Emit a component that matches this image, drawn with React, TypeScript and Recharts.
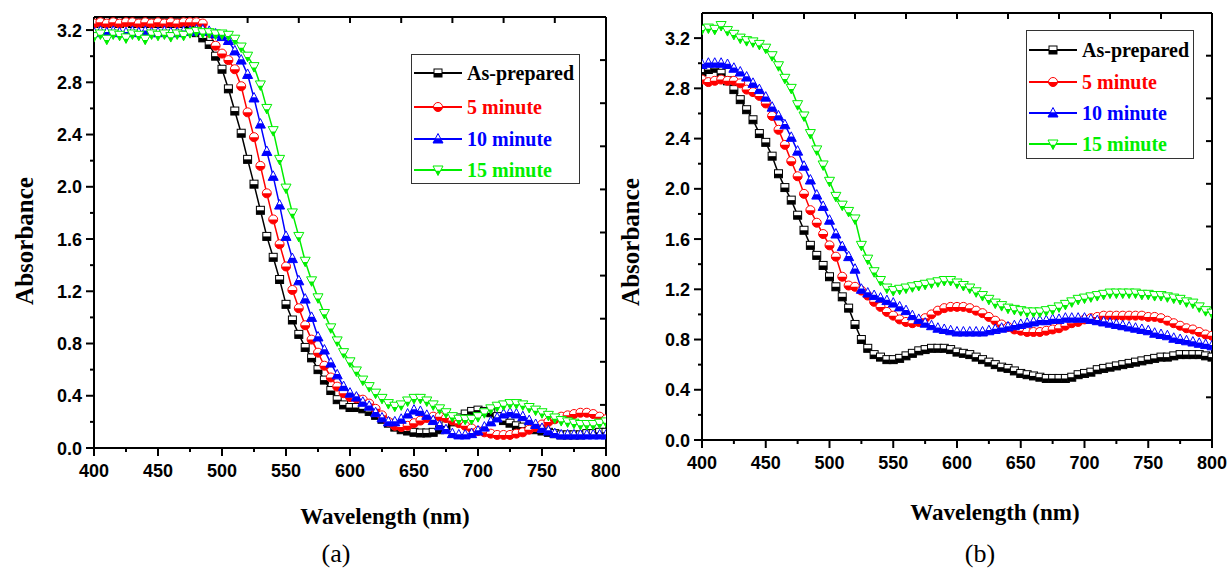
import React from 'react';
import { LineChart, Line, XAxis, YAxis, ReferenceLine } from 'recharts';

// wavelength grid shared by both panels (nm)
const wavelength = [
  400, 405, 410, 415, 420, 425, 430, 435, 440, 445, 450, 455, 460, 465, 470, 475,
  480, 485, 490, 495, 500, 505, 510, 515, 520, 525, 530, 535, 540, 545, 550, 555,
  560, 565, 570, 575, 580, 585, 590, 595, 600, 605, 610, 615, 620, 625, 630, 635,
  640, 645, 650, 655, 660, 665, 670, 675, 680, 685, 690, 695, 700, 705, 710, 715,
  720, 725, 730, 735, 740, 745, 750, 755, 760, 765, 770, 775, 780, 785, 790, 795, 800,
];

const seriesNames = ['As-prepared', '5 minute', '10 minute', '15 minute'];

// panel (a)
const aAsPrepared = [
  3.25, 3.26, 3.25, 3.26, 3.25, 3.26, 3.25, 3.26, 3.25, 3.26, 3.25, 3.26, 3.25, 3.26, 3.25, 3.24,
  3.18, 3.14, 3.09, 3.0, 2.9, 2.75, 2.58, 2.41, 2.21, 2.02, 1.82, 1.62, 1.46, 1.29, 1.1, 0.98,
  0.87, 0.77, 0.69, 0.6, 0.52, 0.44, 0.37, 0.33,
  0.31, 0.31, 0.3, 0.28, 0.25, 0.22, 0.19, 0.16, 0.14, 0.13, 0.12, 0.115, 0.115, 0.12, 0.14, 0.17,
  0.2, 0.23, 0.26, 0.28,
  0.29, 0.28, 0.27, 0.24, 0.21, 0.19, 0.17, 0.16, 0.15, 0.14, 0.13, 0.12, 0.11, 0.1, 0.1, 0.1,
  0.1, 0.11, 0.11, 0.12, 0.12,
];
const a5min = [
  3.25, 3.26, 3.25, 3.26, 3.25, 3.26, 3.26, 3.25, 3.26, 3.25, 3.26, 3.25, 3.26, 3.25, 3.26, 3.26,
  3.26, 3.25, 3.18, 3.08, 3.02, 2.97, 2.9, 2.77, 2.57, 2.38, 2.16, 1.95, 1.75, 1.56, 1.39, 1.21,
  1.07, 0.94, 0.83, 0.73, 0.63, 0.54, 0.47, 0.42,
  0.39, 0.38, 0.37, 0.34, 0.3, 0.25, 0.2, 0.17, 0.16, 0.17, 0.19, 0.21, 0.23, 0.24, 0.24, 0.23,
  0.21, 0.19, 0.17, 0.15,
  0.13, 0.12, 0.11, 0.1, 0.1, 0.1, 0.11, 0.12, 0.14, 0.16, 0.18, 0.2, 0.22, 0.24, 0.25, 0.26,
  0.27, 0.27, 0.26, 0.24, 0.22,
];
const a10min = [
  3.18, 3.19, 3.18, 3.19, 3.18, 3.18, 3.19, 3.18, 3.19, 3.18, 3.18, 3.19, 3.18, 3.18, 3.19, 3.19,
  3.2, 3.2, 3.19, 3.17, 3.15, 3.12, 3.04, 2.97, 2.86, 2.68, 2.48, 2.27, 2.08, 1.86, 1.62, 1.45,
  1.28, 1.14, 1.0, 0.85, 0.75, 0.65, 0.56, 0.47,
  0.42, 0.39, 0.35, 0.32, 0.27, 0.23, 0.2, 0.2, 0.22, 0.26, 0.29, 0.28, 0.25, 0.21, 0.17, 0.14,
  0.11, 0.1, 0.1, 0.11,
  0.13, 0.16, 0.2, 0.23, 0.26, 0.27, 0.26, 0.24, 0.21, 0.18, 0.15, 0.13, 0.11, 0.1, 0.1, 0.1,
  0.1, 0.1, 0.1, 0.1, 0.1,
];
const a15min = [
  3.15, 3.17, 3.13, 3.17, 3.16, 3.14, 3.17, 3.16, 3.13, 3.17, 3.16, 3.17, 3.15, 3.17, 3.16, 3.18,
  3.19, 3.18, 3.18, 3.17, 3.17, 3.16, 3.13, 3.07, 3.0, 2.92, 2.78, 2.6, 2.43, 2.21, 1.99, 1.8,
  1.62, 1.43, 1.28, 1.15, 1.03, 0.92, 0.82, 0.73,
  0.66, 0.59, 0.52, 0.47, 0.42, 0.38, 0.34, 0.32, 0.33, 0.36, 0.38, 0.38, 0.36, 0.33, 0.3, 0.27,
  0.24, 0.22, 0.22, 0.22,
  0.24, 0.27, 0.3, 0.32, 0.33, 0.34, 0.34, 0.33, 0.31, 0.29, 0.27, 0.25, 0.23, 0.21, 0.2, 0.19,
  0.18, 0.18, 0.18, 0.19, 0.2,
];

// panel (b)
const bAsPrepared = [
  2.93, 2.95, 2.96, 2.92, 2.86, 2.79, 2.71, 2.63, 2.55, 2.44, 2.37, 2.26, 2.12, 2.01, 1.91, 1.79,
  1.67, 1.55, 1.47, 1.39, 1.3, 1.22, 1.14, 1.05, 0.92, 0.8, 0.73, 0.68, 0.66, 0.64, 0.64, 0.65,
  0.67, 0.69, 0.71, 0.72, 0.73, 0.73, 0.73, 0.72,
  0.7, 0.69, 0.68, 0.66, 0.64, 0.62, 0.6, 0.58, 0.57, 0.55, 0.53, 0.52, 0.51, 0.5, 0.49, 0.49,
  0.49, 0.49, 0.5, 0.52,
  0.53, 0.54, 0.56, 0.57, 0.58, 0.59, 0.6, 0.61, 0.62, 0.63, 0.64, 0.65, 0.66, 0.66, 0.67, 0.68,
  0.68, 0.68, 0.68, 0.67, 0.66,
];
const b5min = [
  2.87, 2.85, 2.86, 2.87, 2.86, 2.86, 2.84, 2.79, 2.77, 2.74, 2.68, 2.58, 2.47, 2.35, 2.22, 2.1,
  1.96, 1.83, 1.73, 1.64, 1.55, 1.46, 1.3, 1.23, 1.22, 1.19, 1.15, 1.1, 1.06, 1.02, 0.99, 0.96,
  0.94, 0.93, 0.94, 0.97, 1.0, 1.03, 1.05, 1.06,
  1.06, 1.06, 1.05, 1.03, 1.01, 0.98, 0.95, 0.92, 0.9, 0.88, 0.87, 0.86, 0.86, 0.86, 0.87, 0.88,
  0.89, 0.91, 0.93, 0.94,
  0.96, 0.97, 0.98, 0.99, 0.99, 0.99, 0.99, 0.99, 0.99, 0.99, 0.98, 0.98, 0.97, 0.95, 0.93, 0.91,
  0.89, 0.88, 0.86, 0.84, 0.83,
];
const b10min = [
  2.99, 3.0, 3.0, 3.0, 2.99, 2.96, 2.93, 2.89, 2.84, 2.79, 2.73, 2.65, 2.58, 2.51, 2.41, 2.3,
  2.18, 2.07, 1.95, 1.86, 1.75, 1.64, 1.54, 1.46, 1.36, 1.2, 1.17, 1.15, 1.13, 1.11, 1.09, 1.06,
  1.03, 0.99, 0.96, 0.93, 0.91, 0.89, 0.88, 0.87,
  0.86, 0.86, 0.86, 0.86, 0.86, 0.87, 0.88, 0.89, 0.9, 0.91, 0.92, 0.93, 0.94, 0.95, 0.95, 0.96,
  0.96, 0.97, 0.97, 0.97,
  0.97, 0.96, 0.95, 0.94, 0.93, 0.92, 0.91, 0.9, 0.89, 0.88, 0.87, 0.85, 0.84, 0.83, 0.81, 0.8,
  0.79, 0.78, 0.77, 0.76, 0.75,
];
const b15min = [
  3.27, 3.28, 3.27, 3.3, 3.26, 3.23, 3.2, 3.18, 3.17, 3.15, 3.12, 3.06, 2.98, 2.88, 2.8, 2.67,
  2.58, 2.44, 2.31, 2.19, 2.06, 1.94, 1.87, 1.82, 1.76, 1.55, 1.44, 1.34, 1.27, 1.21, 1.19, 1.2,
  1.21, 1.22, 1.23, 1.24, 1.25, 1.26, 1.27, 1.27,
  1.25, 1.23, 1.21, 1.18, 1.15, 1.12, 1.09, 1.07, 1.05, 1.04, 1.03, 1.02, 1.02, 1.02, 1.03, 1.04,
  1.06, 1.08, 1.1, 1.12,
  1.13, 1.14, 1.15, 1.16, 1.17, 1.17, 1.17, 1.17, 1.17, 1.16, 1.16, 1.15, 1.15, 1.14, 1.13, 1.12,
  1.1, 1.09, 1.06, 1.03, 1.01,
];

// axis ticks
const xTicks = [400, 425, 450, 475, 500, 525, 550, 575, 600, 625, 650, 675, 700, 725, 750, 775, 800];
const yTicks = [0, 0.2, 0.4, 0.6, 0.8, 1.0, 1.2, 1.4, 1.6, 1.8, 2.0, 2.2, 2.4, 2.6, 2.8, 3.0, 3.2];
// the top / right frame is split in ten equal divisions
const topTicks = [440, 480, 520, 560, 600, 640, 680, 720, 760];
const rightTicksA = [0.33, 0.66, 0.99, 1.32, 1.65, 1.98, 2.31, 2.64, 2.97];
const rightTicksB = [0.34, 0.68, 1.02, 1.36, 1.7, 2.04, 2.38, 2.72, 3.06];

type Shape = 'square' | 'circle' | 'up' | 'down';
const SERIES: { key: string; color: string; shape: Shape }[] = [
  { key: 's0', color: '#000000', shape: 'square' },
  { key: 's1', color: '#ff0000', shape: 'circle' },
  { key: 's2', color: '#0000ff', shape: 'up' },
  { key: 's3', color: '#00ee00', shape: 'down' },
];

const serif = '"Liberation Serif", "Times New Roman", serif';
const sans = '"Liberation Sans", Arial, sans-serif';
const tickFont = { fontFamily: sans, fontWeight: 700, fontSize: 18, fill: '#000' };

// Origin-style half filled symbol (top white, bottom coloured)
function HalfMarker({ cx, cy, color, shape }: { cx: number; cy: number; color: string; shape: Shape }) {
  if (cx == null || cy == null) return null;
  if (shape === 'square') {
    return (
      <g>
        <rect x={cx - 4} y={cy - 4} width={8} height={8} fill="#fff" stroke={color} strokeWidth={1} />
        <rect x={cx - 4} y={cy} width={8} height={4} fill={color} />
      </g>
    );
  }
  if (shape === 'circle') {
    const r = 4.5;
    return (
      <g>
        <circle cx={cx} cy={cy} r={r} fill="#fff" stroke={color} strokeWidth={1} />
        <path d={`M${cx - r},${cy} A${r},${r} 0 0 0 ${cx + r},${cy} Z`} fill={color} />
      </g>
    );
  }
  if (shape === 'up') {
    return (
      <g>
        <polygon points={`${cx},${cy - 5.5} ${cx + 5},${cy + 4} ${cx - 5},${cy + 4}`} fill="#fff" stroke={color} strokeWidth={1} />
        <polygon points={`${cx - 2.5},${cy - 0.75} ${cx + 2.5},${cy - 0.75} ${cx + 5},${cy + 4} ${cx - 5},${cy + 4}`} fill={color} />
      </g>
    );
  }
  return (
    <g>
      <polygon points={`${cx - 5},${cy - 4} ${cx + 5},${cy - 4} ${cx},${cy + 5.5}`} fill="#fff" stroke={color} strokeWidth={1} />
      <polygon points={`${cx - 2.5},${cy + 0.75} ${cx + 2.5},${cy + 0.75} ${cx},${cy + 5.5}`} fill={color} />
    </g>
  );
}

const BottomTick = ({ x, y, payload }: any) => {
  const major = payload.value % 50 === 0;
  return (
    <g>
      <line x1={x} x2={x} y1={y} y2={y + (major ? 8 : 4)} stroke="#000" strokeWidth={2} />
      {major && (
        <text x={x} y={y + 29} textAnchor="middle" {...tickFont}>
          {payload.value}
        </text>
      )}
    </g>
  );
};

const LeftTick = ({ x, y, payload }: any) => {
  const major = Math.round(payload.value * 5) % 2 === 0;
  return (
    <g>
      <line x1={x} x2={x - (major ? 8 : 4)} y1={y} y2={y} stroke="#000" strokeWidth={2} />
      {major && (
        <text x={x - 12} y={y + 6.5} textAnchor="end" {...tickFont}>
          {payload.value.toFixed(1)}
        </text>
      )}
    </g>
  );
};

const frameLine = { stroke: '#000', strokeWidth: 2 };

function Panel({ values, yMax, rightTicks, width, margin }: {
  values: number[][]; yMax: number; rightTicks: number[]; width: number;
  margin: { top: number; right: number; bottom: number; left: number };
}) {
  const rows = wavelength.map((w, i) => ({
    w,
    s0: values[0][i],
    s1: values[1][i],
    s2: values[2][i],
    s3: values[3][i],
  }));
  const height = 569;
  const plotW = width - margin.left - margin.right - 60 - 10;
  const plotH = height - margin.top - margin.bottom - 30 - 10;
  // 6 px inward frame ticks, expressed in data units
  const dy = (6 * yMax) / plotH;
  const dx = (6 * 400) / plotW;
  return (
    <LineChart width={width} height={height} data={rows} margin={margin}>
      <XAxis xAxisId="b" dataKey="w" type="number" domain={[400, 800]} ticks={xTicks} interval={0}
        allowDataOverflow height={30} tickSize={0} tickMargin={0} tickLine={false} axisLine={frameLine}
        tick={BottomTick} />
      <XAxis xAxisId="t" orientation="top" height={10} tick={false} tickLine={false} axisLine={frameLine} />
      <YAxis yAxisId="l" type="number" domain={[0, yMax]} ticks={yTicks} interval={0}
        allowDataOverflow width={60} tickSize={0} tickMargin={0} tickLine={false} axisLine={frameLine}
        tick={LeftTick} />
      <YAxis yAxisId="r" orientation="right" width={10} tick={false} tickLine={false} axisLine={frameLine} />
      {SERIES.map((s) => (
        <Line
          key={s.key}
          xAxisId="b"
          yAxisId="l"
          type="linear"
          dataKey={s.key}
          stroke={s.color}
          strokeWidth={1.5}
          isAnimationActive={false}
          activeDot={false}
          dot={(p: any) => <HalfMarker key={`${s.key}-${p.index}`} cx={p.cx} cy={p.cy} color={s.color} shape={s.shape} />}
        />
      ))}
      {topTicks.map((t) => (
        <ReferenceLine key={`top-${t}`} xAxisId="b" yAxisId="l" ifOverflow="visible" stroke="#000" strokeWidth={2}
          segment={[{ x: t, y: yMax }, { x: t, y: yMax - dy }]} />
      ))}
      {rightTicks.map((t) => (
        <ReferenceLine key={`right-${t}`} xAxisId="b" yAxisId="l" ifOverflow="visible" stroke="#000" strokeWidth={2}
          segment={[{ x: 800, y: t }, { x: 800 - dx, y: t }]} />
      ))}
    </LineChart>
  );
}

function LegendBox({ x, y, w, h, rows }: { x: number; y: number; w: number; h: number; rows: number[] }) {
  return (
    <g>
      <rect x={x + 0.5} y={y + 0.5} width={w} height={h} fill="#fff" stroke="#333" strokeWidth={1} />
      {seriesNames.map((name, i) => {
        const cy = y + rows[i];
        const s = SERIES[i];
        return (
          <g key={name}>
            <line x1={x + 3} x2={x + 51} y1={cy} y2={cy} stroke={s.color} strokeWidth={2} />
            <HalfMarker cx={x + 27} cy={cy} color={s.color} shape={s.shape} />
            <text x={x + 56} y={cy + 7} fill={s.color} fontFamily={serif} fontWeight={700} fontSize={20}>
              {name}
            </text>
          </g>
        );
      })}
    </g>
  );
}

const titleStyle = { fontFamily: serif, fontWeight: 700, fill: '#000' };

export default function App() {
  return (
    <div style={{ position: 'absolute', left: 0, top: 0, width: 1229, height: 569, background: '#fff', overflow: 'hidden' }}>
      <div style={{ position: 'absolute', left: 0, top: 0 }}>
        <Panel values={[aAsPrepared, a5min, a10min, a15min]} yMax={3.3} rightTicks={rightTicksA} width={620}
          margin={{ top: 7, right: 4, bottom: 91, left: 34 }} />
      </div>
      <div style={{ position: 'absolute', left: 620, top: 0 }}>
        <Panel values={[bAsPrepared, b5min, b10min, b15min]} yMax={3.4} rightTicks={rightTicksB} width={609}
          margin={{ top: 3, right: 7, bottom: 99, left: 22 }} />
      </div>
      <svg width={1229} height={569} style={{ position: 'absolute', left: 0, top: 0, pointerEvents: 'none' }}>
        <LegendBox x={411} y={54} w={168} h={129} rows={[19, 53, 85, 116]} />
        <LegendBox x={1026} y={30} w={167} h={128} rows={[20, 52, 83, 114]} />
        <text x={385} y={524} textAnchor="middle" fontSize={23} {...titleStyle}>Wavelength (nm)</text>
        <text x={995} y={520} textAnchor="middle" fontSize={23} {...titleStyle}>Wavelength (nm)</text>
        <text x={33} y={241} textAnchor="middle" fontSize={25} transform="rotate(-90 33 241)" {...titleStyle}>Absorbance</text>
        <text x={639} y={242} textAnchor="middle" fontSize={25} transform="rotate(-90 639 242)" {...titleStyle}>Absorbance</text>
        <text x={336} y={562} textAnchor="middle" fontSize={26} fontFamily={serif} fill="#000">(a)</text>
        <text x={980} y={562} textAnchor="middle" fontSize={26} fontFamily={serif} fill="#000">(b)</text>
      </svg>
    </div>
  );
}
